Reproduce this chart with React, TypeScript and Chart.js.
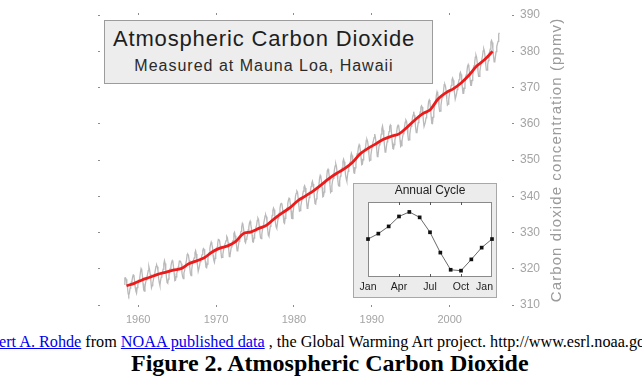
import React, { useEffect, useRef } from 'react';
import { Chart, registerables } from 'chart.js';

Chart.register(...registerables);

const SANS = '"Liberation Sans", Arial, Helvetica, sans-serif';
const SERIF = '"Liberation Serif", "Times New Roman", Times, serif';

// Monthly mean CO2 at Mauna Loa (ppmv), first value is March 1958
const firstYear = 1958;
const firstMonth = 3;
const monthlyCO2 = [
  315.71, 317.45, 317.50, 317.10, 315.86, 314.93, 313.20, 312.66, 313.33, 314.67,
  315.62, 316.38, 316.71, 317.72, 318.29, 318.15, 316.54, 314.80, 313.84, 313.26, 314.80, 315.58,
  316.43, 316.97, 317.58, 319.02, 320.03, 319.59, 318.18, 315.91, 314.16, 313.83, 315.00, 316.19,
  316.93, 317.70, 318.54, 319.48, 320.58, 319.77, 318.57, 316.79, 314.80, 315.38, 316.10, 317.01,
  317.94, 318.56, 319.68, 320.63, 321.01, 320.55, 319.58, 317.40, 316.26, 315.42, 316.69, 317.69,
  318.74, 319.08, 319.86, 321.39, 322.25, 321.47, 319.74, 317.77, 316.21, 315.99, 317.12, 318.31,
  319.57, 320.07, 320.73, 321.77, 322.25, 321.89, 320.44, 318.70, 316.70, 316.79, 317.79, 318.71,
  319.44, 320.44, 320.89, 322.13, 322.16, 321.87, 321.39, 318.81, 317.81, 317.30, 318.87, 319.42,
  320.62, 321.59, 322.39, 323.87, 324.01, 323.75, 322.39, 320.37, 318.64, 318.10, 319.79, 321.08,
  322.07, 322.50, 323.04, 324.42, 325.00, 324.09, 322.55, 320.92, 319.31, 319.31, 320.72, 321.96,
  322.57, 323.15, 323.89, 325.02, 325.57, 325.36, 324.14, 322.03, 320.41, 320.25, 321.31, 322.84,
  324.00, 324.42, 325.64, 326.66, 327.34, 326.76, 325.88, 323.67, 322.38, 321.78, 322.85, 324.11,
  325.03, 325.99, 326.87, 328.13, 328.07, 327.66, 326.35, 324.69, 323.10, 323.16, 323.98, 325.13,
  326.17, 326.68, 327.18, 327.78, 328.92, 328.57, 327.34, 325.46, 323.36, 323.57, 324.80, 326.01,
  326.77, 327.63, 327.75, 329.72, 330.07, 329.09, 328.05, 326.32, 324.93, 325.06, 326.50, 327.55,
  328.54, 329.56, 330.30, 331.50, 332.48, 332.07, 330.87, 329.31, 327.51, 327.18, 328.16, 328.64,
  329.35, 330.71, 331.48, 332.65, 333.09, 332.25, 331.18, 329.40, 327.43, 327.37, 328.46, 329.57,
  330.40, 331.40, 332.04, 333.31, 333.96, 333.59, 331.91, 330.06, 328.56, 328.34, 329.49, 330.76,
  331.75, 332.56, 333.50, 334.58, 334.87, 334.34, 333.05, 330.94, 329.30, 328.94, 330.31, 331.68,
  332.93, 333.42, 334.70, 336.07, 336.74, 336.27, 334.93, 332.75, 331.58, 331.16, 332.40, 333.85,
  334.97, 335.39, 336.64, 337.76, 338.01, 337.89, 336.54, 334.68, 332.76, 332.54, 333.92, 334.95,
  336.23, 336.76, 337.96, 338.89, 339.47, 339.29, 337.73, 336.09, 333.91, 333.86, 335.29, 336.73,
  338.01, 338.36, 340.08, 340.77, 341.46, 341.17, 339.56, 337.60, 335.88, 336.01, 337.10, 338.21,
  339.23, 340.47, 341.38, 342.51, 342.91, 342.25, 340.49, 338.43, 336.69, 336.85, 338.36, 339.61,
  340.75, 341.61, 342.70, 343.56, 344.13, 343.35, 342.06, 339.82, 337.97, 337.86, 339.26, 340.49,
  341.38, 342.52, 343.10, 344.94, 345.75, 345.32, 343.99, 342.39, 339.86, 339.99, 341.16, 342.99,
  343.70, 344.50, 345.28, 347.06, 347.43, 346.80, 345.39, 343.28, 341.07, 341.35, 342.98, 344.22,
  344.97, 345.99, 347.42, 348.35, 348.93, 348.25, 346.56, 344.67, 343.09, 342.80, 344.24, 345.56,
  346.29, 346.96, 347.86, 349.55, 350.21, 349.54, 347.94, 345.91, 344.86, 344.17, 345.66, 346.90,
  348.02, 348.47, 349.42, 350.99, 351.84, 351.25, 349.52, 348.10, 346.44, 346.36, 347.81, 348.96,
  350.43, 351.72, 352.22, 353.59, 354.22, 353.79, 352.39, 350.44, 348.72, 348.88, 350.07, 351.34,
  352.76, 353.07, 353.68, 355.42, 355.67, 355.13, 353.90, 351.67, 349.80, 349.99, 351.30, 352.52,
  353.66, 354.70, 355.39, 356.20, 357.16, 356.22, 354.82, 352.91, 350.96, 351.18, 352.83, 354.21,
  354.72, 355.75, 357.16, 358.60, 359.34, 358.24, 356.17, 354.03, 352.16, 352.21, 353.75, 354.99,
  355.98, 356.72, 357.81, 359.15, 359.66, 359.25, 357.02, 354.83, 353.14, 353.03, 354.23, 355.43,
  356.37, 357.14, 358.08, 359.23, 359.58, 359.19, 357.96, 355.44, 353.75, 353.99, 355.15, 356.48,
  357.25, 358.05, 359.28, 360.44, 361.05, 360.72, 359.27, 357.05, 355.49, 355.55, 357.00, 358.41,
  359.31, 360.08, 361.39, 362.39, 363.34, 362.34, 361.02, 358.91, 357.53, 357.55, 359.05, 360.30,
  361.18, 362.09, 363.24, 364.46, 364.96, 364.63, 363.01, 360.82, 359.24, 359.24, 360.43, 361.64,
  362.62, 363.50, 364.38, 366.07, 366.57, 365.99, 364.16, 361.89, 360.04, 359.99, 361.85, 363.22,
  364.59, 365.41, 366.12, 367.88, 368.82, 368.22, 366.95, 364.81, 363.45, 363.52, 365.01, 366.36,
  367.40, 368.22, 368.98, 370.77, 370.88, 370.36, 369.03, 366.80, 365.16, 365.40, 366.65, 367.98,
  369.10, 369.80, 370.60, 372.10, 372.60, 372.00, 370.40, 368.40, 366.80, 366.80, 368.20, 369.40,
  370.70, 371.40, 372.20, 373.70, 374.20, 373.60, 372.00, 370.00, 368.40, 368.40, 369.80, 371.00,
  372.80, 373.50, 374.30, 375.80, 376.30, 375.70, 374.10, 372.10, 370.60, 370.60, 372.00, 373.20,
  375.40, 376.00, 376.90, 378.40, 378.90, 378.30, 376.70, 374.70, 373.10, 373.10, 374.50, 375.70,
  377.10, 377.80, 378.60, 380.10, 380.60, 380.00, 378.40, 376.40, 374.80, 374.80, 376.20, 377.40,
  379.20, 379.90, 380.60, 382.60, 383.00, 382.40, 380.70, 378.70, 377.10, 377.20, 378.60, 379.90,
  381.30, 382.00, 382.70, 384.70, 385.10,
];

// Annual means (ppmv), drawn as the smoothed trend
const trendYears = [
  1958, 1959, 1960, 1961, 1962, 1963, 1964, 1965, 1966, 1967, 1968, 1969,
  1970, 1971, 1972, 1973, 1974, 1975, 1976, 1977, 1978, 1979,
  1980, 1981, 1982, 1983, 1984, 1985, 1986, 1987, 1988, 1989,
  1990, 1991, 1992, 1993, 1994, 1995, 1996, 1997, 1998, 1999,
  2000, 2001, 2002, 2003, 2004, 2005,
];
const annualMeanCO2 = [
  315.30, 315.97, 316.91, 317.64, 318.45, 318.99, 319.62, 320.04, 321.37, 322.18, 323.05, 324.62,
  325.68, 326.32, 327.46, 329.68, 330.19, 331.13, 332.03, 333.84, 335.41, 336.84,
  338.76, 340.12, 341.48, 343.15, 344.87, 346.35, 347.61, 349.31, 351.69, 353.20,
  354.45, 355.70, 356.54, 357.21, 358.96, 360.97, 362.74, 363.88, 366.84, 368.54,
  369.71, 371.32, 373.45, 375.98, 377.70, 379.98,
];

const yearTicks = [1960, 1970, 1980, 1990, 2000];
const yearMin = 1955.1;
const yearMax = 2008;
const ppmMin = 310;
const ppmMax = 390;
const ppmStep = 10;

const chartTitle = 'Atmospheric Carbon Dioxide';
const chartSubtitle = 'Measured at Mauna Loa, Hawaii';
const axisTitle = 'Carbon dioxide concentration (ppmv)';

// Mean seasonal cycle (ppmv departure), January through the following January
const cycleMonths = ['Jan', 'Feb', 'Mar', 'Apr', 'May', 'Jun', 'Jul', 'Aug', 'Sep', 'Oct', 'Nov', 'Dec', 'Jan'];
const cycleDeviation = [0, 0.6, 1.4, 2.5, 3.0, 2.4, 0.75, -1.5, -3.4, -3.5, -2.25, -0.95, 0];
const cycleLabelMonths = [0, 3, 6, 9, 12];
const cycleMin = -4.2;
const cycleMax = 4.1;
const insetTitle = 'Annual Cycle';

const monthlyPoints = monthlyCO2.map((v, i) => ({
  x: firstYear + (firstMonth - 1 + i + 0.5) / 12,
  y: v,
}));
const trendPoints = annualMeanCO2.map((v, i) => ({ x: trendYears[i] + 0.5, y: v }));
const cyclePoints = cycleDeviation.map((v, i) => ({ x: i, y: v }));

const tickGrid = {
  display: true,
  drawOnChartArea: false,
  drawTicks: true,
  tickLength: 2,
  tickColor: '#8c8c8c',
  color: '#8c8c8c',
};

// Rotated title beside the right-hand axis, reading upward
const sideTitle = {
  id: 'sideTitle',
  afterDraw(chart: any) {
    const { ctx, chartArea } = chart;
    ctx.save();
    ctx.translate(chartArea.right + 45, (chartArea.top + chartArea.bottom) / 2);
    ctx.rotate(-Math.PI / 2);
    ctx.font = `15px ${SANS}`;
    (ctx as any).letterSpacing = '1.1px';
    ctx.fillStyle = '#9a9a9a';
    ctx.textAlign = 'center';
    ctx.textBaseline = 'middle';
    ctx.fillText(axisTitle, 0, 0);
    ctx.restore();
  },
};

// Grey panel, white plotting box, inner ticks, title and month labels of the inset
const insetFrame = {
  id: 'insetFrame',
  beforeDraw(chart: any) {
    const { ctx, width, height, chartArea: a } = chart;
    ctx.save();
    ctx.fillStyle = '#ececec';
    ctx.fillRect(0, 0, width, height);
    ctx.strokeStyle = '#a8a8a8';
    ctx.lineWidth = 1;
    ctx.strokeRect(0.5, 0.5, width - 1, height - 1);
    ctx.fillStyle = '#ffffff';
    ctx.fillRect(a.left, a.top, a.right - a.left, a.bottom - a.top);
    ctx.restore();
  },
  beforeDatasetsDraw(chart: any) {
    const { ctx, chartArea: a, scales } = chart;
    const xs = scales.x;
    ctx.save();
    ctx.strokeStyle = '#8a8a8a';
    ctx.lineWidth = 1;
    ctx.strokeRect(Math.round(a.left) + 0.5, Math.round(a.top) + 0.5, Math.round(a.right - a.left) - 1, Math.round(a.bottom - a.top) - 1);
    ctx.strokeStyle = '#555';
    cycleLabelMonths.slice(1, -1).forEach((m) => {
      const px = Math.round(xs.getPixelForValue(m)) + 0.5;
      ctx.beginPath();
      ctx.moveTo(px, a.top);
      ctx.lineTo(px, a.top + 3);
      ctx.moveTo(px, a.bottom);
      ctx.lineTo(px, a.bottom - 3);
      ctx.stroke();
    });
    ctx.restore();
  },
  afterDraw(chart: any) {
    const { ctx, chartArea: a, scales } = chart;
    const xs = scales.x;
    ctx.save();
    ctx.fillStyle = '#222';
    ctx.textBaseline = 'middle';
    ctx.textAlign = 'center';
    ctx.font = `12px ${SANS}`;
    ctx.fillText(insetTitle, (a.left + a.right) / 2, a.top - 11);
    ctx.font = `10.5px ${SANS}`;
    cycleLabelMonths.forEach((m) => {
      const label = cycleMonths[m];
      const w = ctx.measureText(label).width;
      let px = xs.getPixelForValue(m);
      px = Math.min(px, a.right + 1 - w / 2);
      ctx.fillText(label, px, a.bottom + 10);
    });
    ctx.restore();
  },
};

export default function App() {
  const mainRef = useRef<HTMLCanvasElement>(null);
  const insetRef = useRef<HTMLCanvasElement>(null);

  useEffect(() => {
    Chart.defaults.font.family = SANS;

    const main = new Chart(mainRef.current as HTMLCanvasElement, {
      type: 'line',
      data: {
        datasets: [
          {
            label: 'Annual mean',
            data: trendPoints,
            borderColor: '#ec1b1b',
            borderWidth: 2.8,
            pointRadius: 0,
            tension: 0.35,
            xAxisID: 'x',
            yAxisID: 'y',
          },
          {
            label: 'Monthly mean',
            data: monthlyPoints,
            borderColor: '#b9b9b9',
            borderWidth: 1.3,
            pointRadius: 0,
            tension: 0,
            xAxisID: 'x',
            yAxisID: 'y',
          },
        ],
      },
      options: {
        animation: false,
        responsive: true,
        maintainAspectRatio: false,
        parsing: false,
        layout: { padding: 0 },
        plugins: { legend: { display: false }, tooltip: { enabled: false }, title: { display: false } },
        scales: {
          x: {
            type: 'linear',
            position: 'bottom',
            min: yearMin,
            max: yearMax,
            afterBuildTicks: (s: any) => { s.ticks = yearTicks.map((v) => ({ value: v })); },
            afterFit: (s: any) => { s.height = 25; },
            grid: tickGrid,
            border: { display: false },
            ticks: {
              color: '#a4a4a4',
              font: { size: 11 },
              padding: 6,
              maxRotation: 0,
              callback: (v: any) => String(v),
            },
          },
          xTop: {
            type: 'linear',
            position: 'top',
            min: yearMin,
            max: yearMax,
            afterBuildTicks: (s: any) => { s.ticks = yearTicks.map((v) => ({ value: v })); },
            afterFit: (s: any) => { s.height = 15; },
            grid: tickGrid,
            border: { display: false },
            ticks: { display: false },
          },
          y: {
            type: 'linear',
            position: 'right',
            min: ppmMin,
            max: ppmMax,
            afterFit: (s: any) => { s.width = 130; },
            grid: tickGrid,
            border: { display: false },
            ticks: { stepSize: ppmStep, color: '#a4a4a4', font: { size: 12 }, padding: 6 },
          },
          yLeft: {
            type: 'linear',
            position: 'left',
            min: ppmMin,
            max: ppmMax,
            afterFit: (s: any) => { s.width = 100; },
            grid: tickGrid,
            border: { display: false },
            ticks: { stepSize: ppmStep, display: false },
          },
        },
      },
      plugins: [sideTitle],
    });

    const inset = new Chart(insetRef.current as HTMLCanvasElement, {
      type: 'line',
      data: {
        datasets: [
          {
            label: 'Seasonal cycle',
            data: cyclePoints,
            borderColor: '#6a6a6a',
            borderWidth: 1,
            pointStyle: 'rect',
            pointRadius: 2.6,
            pointBackgroundColor: '#111',
            pointBorderColor: '#111',
            pointBorderWidth: 0,
            tension: 0,
            clip: false,
          },
        ],
      },
      options: {
        animation: false,
        responsive: true,
        maintainAspectRatio: false,
        parsing: false,
        layout: { padding: { left: 15, right: 5, top: 19, bottom: 21 } },
        plugins: { legend: { display: false }, tooltip: { enabled: false } },
        scales: {
          x: { type: 'linear', min: 0, max: 12, display: false },
          y: { type: 'linear', min: cycleMin, max: cycleMax, display: false },
        },
      },
      plugins: [insetFrame],
    });

    return () => {
      main.destroy();
      inset.destroy();
    };
  }, []);

  return (
    <div style={{ position: 'fixed', left: 0, top: 0, width: 642, height: 384, background: '#fff', overflow: 'hidden' }}>
      <div style={{ position: 'absolute', left: 0, top: 0, width: 642, height: 330 }}>
        <canvas ref={mainRef} />
      </div>
      <div
        style={{
          position: 'absolute', left: 104, top: 20, width: 329, height: 64, boxSizing: 'border-box',
          background: '#ededed', border: '1px solid #9c9c9c', fontFamily: SANS, color: '#1e1e1e',
        }}
      >
        <div style={{ position: 'absolute', left: 0, right: 9, top: 7, textAlign: 'center', fontSize: 22, lineHeight: '22px', letterSpacing: '0.85px', whiteSpace: 'nowrap' }}>
          {chartTitle}
        </div>
        <div style={{ position: 'absolute', left: 0, right: 9, top: 37, textAlign: 'center', fontSize: 16, lineHeight: '16px', letterSpacing: '1px', color: '#2a2a2a', whiteSpace: 'nowrap' }}>
          {chartSubtitle}
        </div>
      </div>
      <div style={{ position: 'absolute', left: 353, top: 183, width: 144, height: 115 }}>
        <canvas ref={insetRef} />
      </div>
      <div style={{ position: 'absolute', left: -28, top: 334, fontFamily: SERIF, fontSize: 16.2, lineHeight: '16px', whiteSpace: 'nowrap', color: '#000' }}>
        <a href="#" style={{ color: '#0000ee' }}>Robert A. Rohde</a> from <a href="#" style={{ color: '#0000ee' }}>NOAA published data</a> , the Global Warming Art project. http://www.esrl.noaa.gov/gmd/ccgg/trends/
      </div>
      <div style={{ position: 'absolute', left: 131, top: 351, fontFamily: SERIF, fontSize: 24, fontWeight: 'bold', lineHeight: '24px', whiteSpace: 'nowrap', color: '#000' }}>
        Figure 2. Atmospheric Carbon Dioxide
      </div>
    </div>
  );
}
